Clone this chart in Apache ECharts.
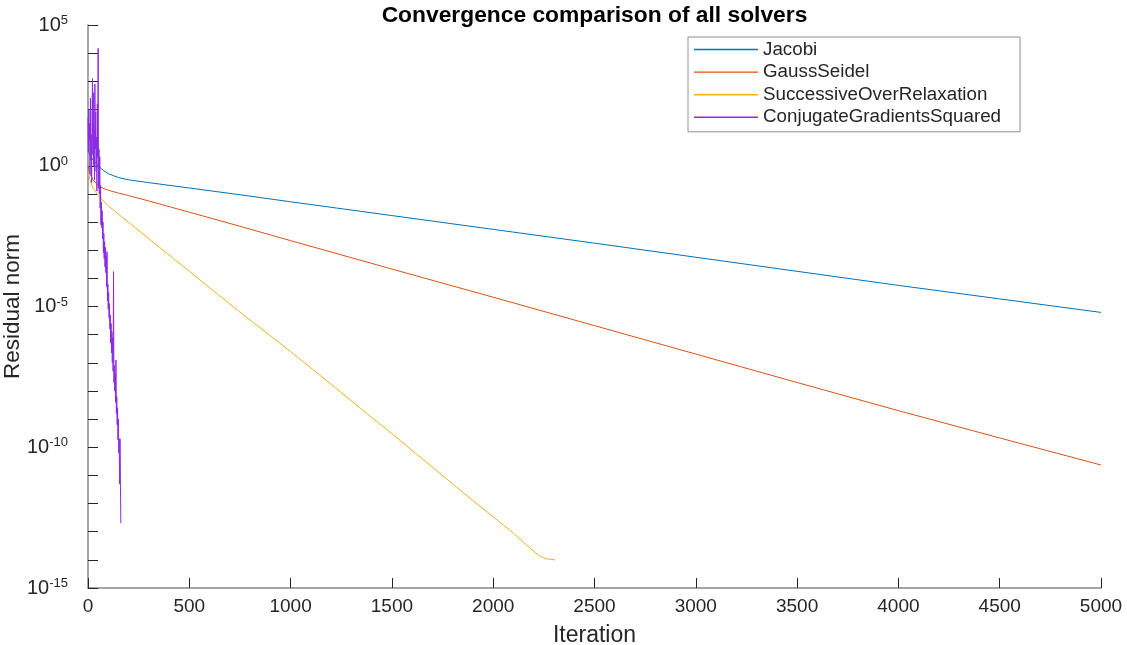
<!DOCTYPE html>
<html>
<head>
<meta charset="utf-8">
<script src="https://cdn.jsdelivr.net/npm/echarts@6/dist/echarts.min.js"></script>
<style>html,body{margin:0;padding:0;background:#fff}#c{width:1127px;height:645px}</style>
</head>
<body>
<div id="c"></div>
<script>
// ---- data (residual norms stored as log10 exponents) ----
const titleText = 'Convergence comparison of all solvers';
const seriesNames = ['Jacobi', 'GaussSeidel', 'SuccessiveOverRelaxation', 'ConjugateGradientsSquared'];
const xTickLabels = ['0','500','1000','1500','2000','2500','3000','3500','4000','4500','5000'];
const yLabelExponents = [5, 0, -5, -10, -15];

const jacobiIter = [0, 10, 25, 50, 75, 100, 150, 200, 300, 500, 750, 1000, 1500, 2000, 2500, 3000, 3500, 4000, 4500, 5000];
const jacobiLog  = [0.55, 0.38, 0.2, 0.0, -0.16, -0.28, -0.42, -0.5, -0.6, -0.79, -1.03, -1.28, -1.77, -2.26, -2.75, -3.25, -3.75, -4.25, -4.73, -5.21];

const gaussIter = [0, 10, 25, 50, 75, 100, 150, 200, 300, 500, 750, 1000, 1500, 2000, 2500, 3000, 3500, 4000, 4500, 5000];
const gaussLog  = [0.0, -0.3, -0.5, -0.7, -0.8, -0.87, -0.97, -1.06, -1.25, -1.65, -2.15, -2.66, -3.67, -4.67, -5.68, -6.69, -7.70, -8.70, -9.67, -10.63];

const sorIter = [0, 10, 25, 50, 75, 100, 150, 200, 300, 500, 750, 1000, 1500, 1850, 2000, 2100, 2150, 2200, 2230, 2260, 2305];
const sorLog  = [-0.2, -0.5, -0.8, -1.05, -1.25, -1.42, -1.72, -2.01, -2.59, -3.75, -5.2, -6.6, -9.52, -11.6, -12.47, -13.05, -13.38, -13.7, -13.86, -13.96, -14.0];

const cgsIter = [0,2,4,6,8,10,12,14,16,18,20,22,24,26,28,30,32,34,36,38,40,42,44,46,48,50,52,54,56,58,60,62,64,66,68,70,72,74,76,78,80,82,84,86,88,90,92,94,96,98,100,102,104,106,108,110,112,114,116,118,120,122,124,126,128,130,132,134,136,138,140,142,144,146,148,150,152,154,156,158,160,162];
const cgsLog  = [1.7,0.5,2.0,0.9,1.5,-0.3,2.4,0.2,1.1,-0.6,1.8,3.1,0.4,2.6,0.0,1.3,-0.5,2.9,0.6,1.9,-0.2,1.0,-0.9,2.2,0.3,4.17,-0.8,0.6,-1.0,0.32,-1.5,-0.7,-2.1,-1.3,-2.2,-1.6,-2.6,-2.0,-3.1,-2.4,-3.3,-2.7,-3.6,-2.9,-3.8,-3.2,-4.3,-3.05,-4.8,-4.2,-5.1,-4.5,-5.4,-4.9,-5.8,-5.3,-6.3,-5.6,-6.65,-5.9,-7.0,-6.1,-7.3,-3.76,-7.7,-7.1,-8.0,-7.4,-8.4,-6.9,-8.8,-8.2,-9.2,-8.6,-9.74,-9.0,-10.2,-9.7,-11.3,-9.7,-11.2,-12.7];

const colors = ['#0072BD', '#D95319', '#EDB120', '#8B2BE2'];

// ---- build ----
function pairs(xs, ls) { return xs.map((x, i) => [x, Math.pow(10, ls[i])]); }
const allData = [pairs(jacobiIter, jacobiLog), pairs(gaussIter, gaussLog), pairs(sorIter, sorLog), pairs(cgsIter, cgsLog)];

const FONT = '"Liberation Sans", Arial, Helvetica, sans-serif';
const chart = echarts.init(document.getElementById('c'), null, {renderer: 'canvas'});
chart.setOption({
  backgroundColor: '#ffffff',
  animation: false,
  title: {
    text: titleText, left: 589.5, top: -1, textAlign: 'center',
    textStyle: {fontFamily: FONT, fontSize: 22.8, fontWeight: 'bold', color: '#000'}
  },
  legend: {
    data: seriesNames, orient: 'vertical', left: 688, top: 37,
    backgroundColor: '#fff', borderColor: '#8f8f8f', borderWidth: 1,
    padding: [3, 19, 5, 6], icon: 'rect', itemWidth: 64, itemHeight: 1.4, itemGap: 3.6,
    textStyle: {fontFamily: FONT, fontSize: 18.8, lineHeight: 18, color: '#262626', padding: [0, 0, 0, 0]}
  },
  grid: {left: 88, right: 26, top: 25, bottom: 57, containLabel: false, outerBoundsMode: 'none'},
  xAxis: {
    type: 'value', min: 0, max: 5000, interval: 500,
    name: 'Iteration', nameLocation: 'middle', nameGap: 36, nameMoveOverlap: false,
    nameTextStyle: {fontFamily: FONT, fontSize: 23, color: '#262626'},
    axisLine: {lineStyle: {color: '#8a8a8a', width: 1.5}},
    axisTick: {inside: true, length: 10, lineStyle: {color: '#262626'}},
    axisLabel: {fontFamily: FONT, fontSize: 19, color: '#262626', margin: 9,
      formatter: (v) => xTickLabels[Math.round(v / 500)] },
    splitLine: {show: false}
  },
  yAxis: {
    type: 'log', logBase: 10, min: 1e-15, max: 1e5, interval: 1,
    name: 'Residual norm', nameLocation: 'middle', nameGap: 64, nameRotate: 90, nameMoveOverlap: false,
    nameTextStyle: {fontFamily: FONT, fontSize: 22.5, color: '#262626'},
    axisLine: {lineStyle: {color: '#8a8a8a', width: 1.5}},
    axisTick: {inside: true, length: 10, lineStyle: {color: '#262626'}},
    axisLabel: {
      margin: 20, showMinLabel: true, showMaxLabel: true, hideOverlap: false,
      formatter: (v) => {
        const e = Math.round(Math.log10(v));
        if (yLabelExponents.indexOf(e) < 0) return '';
        return '{b|10}{s|' + e + '}';
      },
      rich: {
        b: {fontFamily: FONT, fontSize: 20, color: '#262626', lineHeight: 22},
        s: {fontFamily: FONT, fontSize: 13, color: '#262626', lineHeight: 13, verticalAlign: 'top'}
      }
    },
    splitLine: {show: false}
  },
  series: seriesNames.map((n, i) => ({
    name: n, type: 'line', data: allData[i], symbol: 'none', smooth: false,
    lineStyle: {color: colors[i], width: 1}, itemStyle: {color: colors[i]},
    z: 2 + i
  }))
});
</script>
</body>
</html>
